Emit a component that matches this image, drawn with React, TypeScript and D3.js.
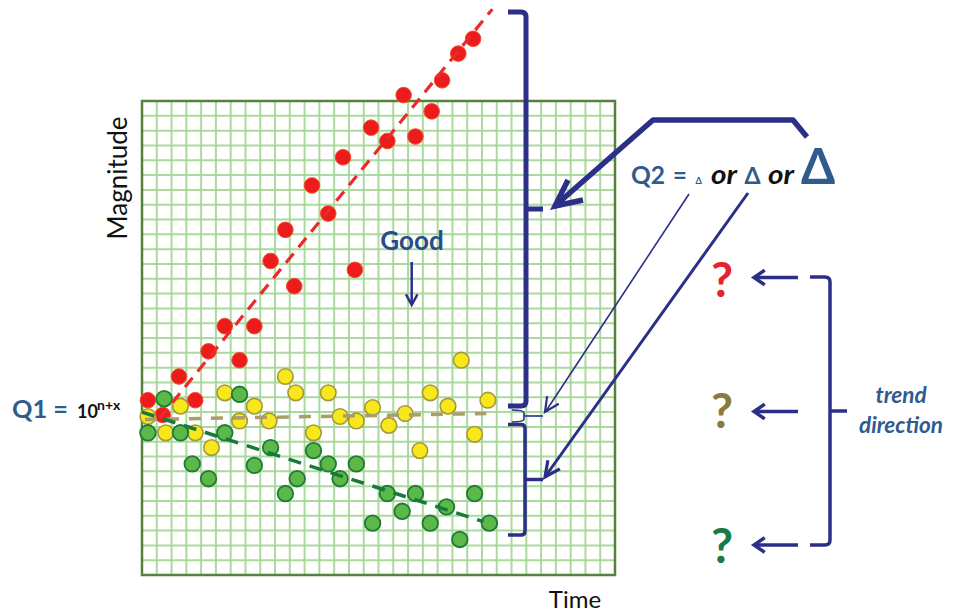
import React from "react";
import * as d3 from "d3";

const W = 959;
const H = 614;
const GRID_CELLS = 32;

// Series values (time, magnitude) in grid units
const redTime = [0.4, 1.4, 2.5, 3.6, 4.5, 5.6, 6.6, 7.6, 8.7, 9.7, 10.3, 11.5, 12.6, 13.6, 14.4, 15.5, 16.6, 17.7, 18.5, 19.6, 20.3, 21.4, 22.4];
const redMag = [11.8, 10.8, 13.4, 11.8, 15.1, 16.8, 14.5, 16.8, 21.2, 23.3, 19.5, 26.3, 24.4, 28.2, 20.6, 30.2, 29.3, 32.4, 29.6, 31.3, 33.4, 35.2, 36.2];

const yellowTime = [0.4, 1.6, 2.6, 3.6, 4.7, 5.6, 6.6, 7.6, 8.6, 9.7, 10.4, 11.6, 12.6, 13.4, 14.5, 15.6, 16.7, 17.8, 18.8, 19.5, 20.7, 21.6, 22.5, 23.4];
const yellowMag = [10.7, 9.6, 11.4, 9.6, 8.6, 12.3, 10.4, 11.4, 10.4, 13.4, 12.3, 9.6, 12.3, 10.7, 10.4, 11.3, 10.1, 10.9, 8.4, 12.3, 11.4, 14.5, 9.5, 11.8];

const greenTime = [0.4, 1.5, 2.6, 3.4, 4.5, 5.6, 6.6, 7.6, 8.7, 9.7, 10.5, 11.6, 12.6, 13.4, 14.5, 15.6, 16.6, 17.6, 18.5, 19.5, 20.6, 21.5, 22.5, 23.5];
const greenMag = [9.6, 11.9, 9.6, 7.5, 6.5, 9.6, 12.2, 7.4, 8.6, 5.5, 6.5, 8.4, 7.5, 6.5, 7.5, 3.5, 5.5, 4.3, 5.5, 3.5, 4.6, 2.4, 5.5, 3.5];

// Trend lines (start / end) in grid units
const redTrendTime = [1.2, 23.7];
const redTrendMag = [10.6, 38.2];
const tanTrendTime = [0.2, 23.3];
const tanTrendMag = [10.5, 10.9];
const greenTrendTime = [0.0, 23.1];
const greenTrendMag = [11.0, 3.6];

const FONT = "Lato, 'Open Sans', 'DejaVu Sans', sans-serif";
const NAVY = "#2b2f87";
const STEEL = "#2f5b8e";

function chevron(tipX: number, tipY: number, fromX: number, fromY: number, len: number, ang = 0.55) {
  const a = Math.atan2(fromY - tipY, fromX - tipX);
  const x1 = tipX + len * Math.cos(a + ang);
  const y1 = tipY + len * Math.sin(a + ang);
  const x2 = tipX + len * Math.cos(a - ang);
  const y2 = tipY + len * Math.sin(a - ang);
  return `M${x1},${y1} L${tipX},${tipY} L${x2},${y2}`;
}

export default function App() {
  const x = d3.scaleLinear().domain([0, GRID_CELLS]).range([142, 615]);
  const y = d3.scaleLinear().domain([0, GRID_CELLS]).range([575, 101]);
  const gridVals = d3.range(0, GRID_CELLS + 1);

  const line = d3
    .line<[number, number]>()
    .x((d) => x(d[0]))
    .y((d) => y(d[1]));

  const pts = (t: number[], m: number[]) => t.map((v, i) => [v, m[i]] as [number, number]);

  const red = pts(redTime, redMag);
  const yellow = pts(yellowTime, yellowMag);
  const green = pts(greenTime, greenMag);

  const R = 7.8;

  return (
    <svg width={W} height={H} style={{ position: "absolute", left: 0, top: 0, background: "#fff" }}>
      {/* grid */}
      <g>
        {gridVals.map((v) => (
          <line key={"gx" + v} x1={x(v)} x2={x(v)} y1={y(0)} y2={y(GRID_CELLS)} stroke="#a3d695" strokeWidth={2} opacity={0.9} />
        ))}
        {gridVals.map((v) => (
          <line key={"gy" + v} x1={x(0)} x2={x(GRID_CELLS)} y1={y(v)} y2={y(v)} stroke="#a3d695" strokeWidth={2} opacity={0.9} />
        ))}
        <rect x={x(0)} y={y(GRID_CELLS)} width={x(GRID_CELLS) - x(0)} height={y(0) - y(GRID_CELLS)} fill="none" stroke="#55823a" strokeWidth={2.5} />
      </g>

      {/* points */}
      <g>
        {red.map((d, i) => (
          <circle key={"r" + i} cx={x(d[0])} cy={y(d[1])} r={R} fill="#ec1c1c" stroke="#f0502c" strokeWidth={1} />
        ))}
        {yellow.map((d, i) => (
          <circle key={"y" + i} cx={x(d[0])} cy={y(d[1])} r={R} fill="#f6e81a" stroke="#a8963c" strokeWidth={1.6} />
        ))}
        {green.map((d, i) => (
          <circle key={"g" + i} cx={x(d[0])} cy={y(d[1])} r={R} fill="#5cb848" stroke="#1e7a34" strokeWidth={1.8} />
        ))}
      </g>

      {/* trend lines */}
      <path d={line(pts(tanTrendTime, tanTrendMag)) || ""} stroke="#ab9c6a" strokeWidth={3.5} strokeDasharray="12,10" fill="none" />
      <path d={line(pts(greenTrendTime, greenTrendMag)) || ""} stroke="#177a3a" strokeWidth={3.5} strokeDasharray="13,9" fill="none" />
      <path d={line(pts(redTrendTime, redTrendMag)) || ""} stroke="#ec2a2a" strokeWidth={3.2} strokeDasharray="12,8" fill="none" />

      {/* axis labels */}
      <text transform="translate(127,178) rotate(-90)" textAnchor="middle" fontFamily={FONT} fontSize={26} fill="#111">
        Magnitude
      </text>
      <text x={575} y={608} textAnchor="middle" fontFamily={FONT} fontSize={24} fill="#111">
        Time
      </text>

      {/* Good */}
      <text x={412} y={250} textAnchor="middle" fontFamily={FONT} fontSize={26} fontWeight="bold" fill="#2a4a88">
        Good
      </text>
      <line x1={411.7} y1={262} x2={411.7} y2={304} stroke={NAVY} strokeWidth={2.5} />
      <path d={chevron(411.7, 305, 411.7, 262, 12, 0.5)} stroke={NAVY} strokeWidth={2.5} fill="none" />

      {/* Q1 */}
      <text x={12} y={418} fontFamily={FONT} fontSize={24} fontWeight="bold" fill={STEEL} textLength={56} lengthAdjust="spacingAndGlyphs">
        Q1 =
      </text>
      <text x={77} y={418} fontFamily={FONT} fontSize={18} fontWeight="bold" fill="#111">
        10
      </text>
      <text x={97} y={410} fontFamily={FONT} fontSize={14} fontWeight="bold" fill="#111">
        n+x
      </text>

      {/* brackets beside the plot */}
      <path d="M508,12 L521,12 Q526,12 526,17 L526,401 Q526,406 521,406 L508,406" stroke={NAVY} strokeWidth={5} fill="none" />
      <path d="M526,209 L543,209" stroke={NAVY} strokeWidth={5} fill="none" />
      <path d="M512,410 Q524,410 524,413 L524,419 Q524,422 512,422" stroke={NAVY} strokeWidth={1.6} fill="none" />
      <path d="M524,416 L543,416" stroke={NAVY} strokeWidth={1.6} fill="none" />
      <path d="M508,424.5 L521,424.5 Q525,424.5 525,428.5 L525,531 Q525,535 521,535 L508,535" stroke={NAVY} strokeWidth={3.5} fill="none" />
      <path d="M525,479.5 L543,479.5" stroke={NAVY} strokeWidth={3.5} fill="none" />

      {/* big arrow */}
      <path d="M807,137 L793,120 L653,120 L556,205" stroke={NAVY} strokeWidth={5.5} fill="none" strokeLinejoin="round" />
      <path d="M568,180 L555,206 L583,200" stroke={NAVY} strokeWidth={5.5} fill="none" strokeLinejoin="miter" />

      {/* thin arrows from Q2 */}
      <path d="M689,194 L546,411" stroke={NAVY} strokeWidth={1.6} fill="none" />
      <path d={chevron(545, 412, 689, 194, 16, 0.45)} stroke={NAVY} strokeWidth={2.2} fill="none" />
      <path d="M748,193 L546,475.5" stroke={NAVY} strokeWidth={3} fill="none" />
      <path d={chevron(545, 477, 748, 193, 17, 0.45)} stroke={NAVY} strokeWidth={3.2} fill="none" />

      {/* Q2 text */}
      <text x={631} y={183.5} fontFamily={FONT} fontSize={24} fontWeight="bold" fill={STEEL} textLength={34} lengthAdjust="spacingAndGlyphs">
        Q2
      </text>
      <text x={673} y={183.5} fontFamily={FONT} fontSize={24} fontWeight="bold" fill={STEEL}>
        =
      </text>
      <text x={695.5} y={183.5} fontFamily={FONT} fontSize={9} fontWeight="bold" fill={STEEL}>
        Δ
      </text>
      <text x={711} y={183.5} fontFamily={FONT} fontSize={26} fontWeight="bold" fontStyle="italic" fill="#111" textLength={26} lengthAdjust="spacingAndGlyphs">
        or
      </text>
      <text x={744.5} y={183.5} fontFamily={FONT} fontSize={23} fontWeight="bold" fill={STEEL}>
        Δ
      </text>
      <text x={768} y={183.5} fontFamily={FONT} fontSize={26} fontWeight="bold" fontStyle="italic" fill="#111" textLength={26} lengthAdjust="spacingAndGlyphs">
        or
      </text>
      <text x={801} y={184} fontFamily={FONT} fontSize={49} fontWeight="bold" fill={STEEL}>
        Δ
      </text>

      {/* question marks */}
      <text x={722} y={297} textAnchor="middle" fontFamily={FONT} fontSize={48} fontWeight="bold" fill="#e8222a">
        ?
      </text>
      <text x={722} y={428} textAnchor="middle" fontFamily={FONT} fontSize={48} fontWeight="bold" fill="#8a7a3c">
        ?
      </text>
      <text x={722} y={563} textAnchor="middle" fontFamily={FONT} fontSize={48} fontWeight="bold" fill="#1a7a44">
        ?
      </text>

      {/* left-pointing arrows */}
      {[277.5, 411.5, 545].map((yy) => (
        <g key={"la" + yy}>
          <line x1={798} y1={yy} x2={755} y2={yy} stroke={NAVY} strokeWidth={3.5} />
          <path d={chevron(754, yy, 798, yy, 13, 0.6)} stroke={NAVY} strokeWidth={3.5} fill="none" />
        </g>
      ))}

      {/* right bracket */}
      <path d="M810,277 L825,277 Q830,277 830,282 L830,540 Q830,545 825,545 L810,545" stroke={NAVY} strokeWidth={3.5} fill="none" />
      <path d="M830,411 L847,411" stroke={NAVY} strokeWidth={3.5} fill="none" />

      <text x={901} y={403} textAnchor="middle" fontFamily={FONT} fontSize={22.5} fontWeight="bold" fontStyle="italic" fill={STEEL}>
        trend
      </text>
      <text x={901} y={433} textAnchor="middle" fontFamily={FONT} fontSize={22.5} fontWeight="bold" fontStyle="italic" fill={STEEL}>
        direction
      </text>
    </svg>
  );
}
